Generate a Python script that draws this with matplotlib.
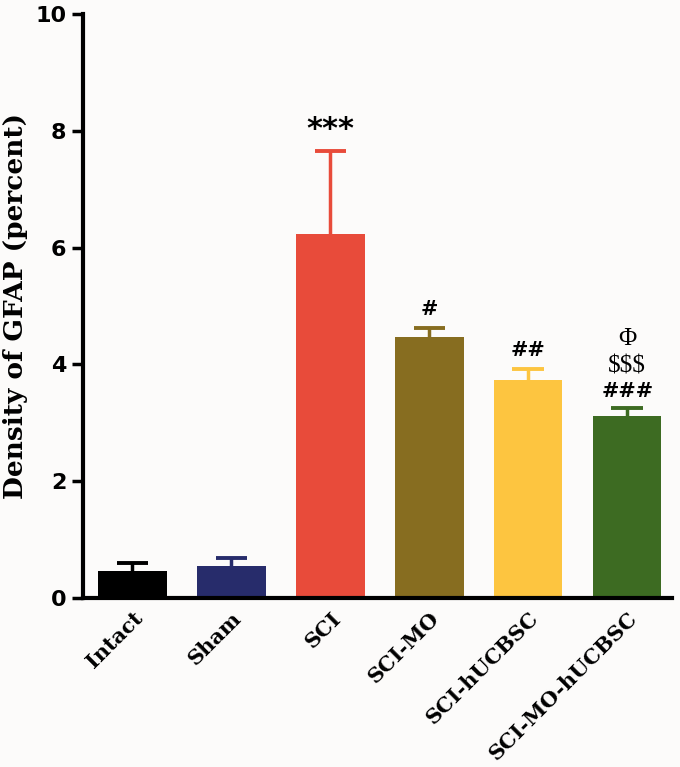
import matplotlib
matplotlib.use("Agg")
import matplotlib.pyplot as plt
import numpy as np

categories = ["Intact", "Sham", "SCI", "SCI-MO", "SCI-hUCBSC", "SCI-MO-hUCBSC"]
means = [0.46, 0.56, 6.24, 4.47, 3.73, 3.11]
errors = [0.14, 0.13, 1.42, 0.15, 0.19, 0.14]
colors = ["#000000", "#272C6B", "#E84B3A", "#876D20", "#FDC540", "#3D6B22"]

fig = plt.figure(figsize=(6.8, 7.67), dpi=100, facecolor="#FCFBFA")
ax = fig.add_axes([0.122, 0.220, 0.866, 0.762])
ax.set_facecolor("#FCFBFA")
x = np.arange(len(categories))
tops = np.array(means) + np.array(errors)
ax.bar(x, means, width=0.69, color=colors, zorder=2)
ax.vlines(x, means, tops, colors=colors, linewidth=2.5, zorder=1)
for i in range(len(categories)):
    ax.hlines(tops[i], x[i] - 0.16, x[i] + 0.16, colors=colors[i], linewidth=2.8, zorder=1)

serif = ["DejaVu Serif"]
ax.text(x[2], tops[2] + 0.12, "***", ha="center", va="bottom",
        fontsize=22, fontweight="bold", family="DejaVu Sans")
ax.text(x[3], tops[3] + 0.15, "#", ha="center", va="bottom",
        fontsize=15, fontweight="bold", family=serif)
ax.text(x[4], tops[4] + 0.15, "##", ha="center", va="bottom",
        fontsize=15, fontweight="bold", family=serif)
ax.text(x[5], tops[5] + 0.12, "###", ha="center", va="bottom",
        fontsize=15, fontweight="bold", family=serif)
ax.text(x[5], tops[5] + 0.52, "$$$", ha="center", va="bottom",
        fontsize=18, family="Liberation Serif")
ax.text(x[5], tops[5] + 1.0, "\u03A6", ha="center", va="bottom",
        fontsize=18, family="Liberation Serif")

ax.set_xlim(-0.5, 5.45)
ax.set_ylim(0, 10)
ax.set_yticks([0, 2, 4, 6, 8, 10])
ax.set_yticklabels(["0", "2", "4", "6", "8", "10"], fontsize=16, fontweight="bold",
                   family="DejaVu Sans")
ax.set_xticks(x)
ax.set_xticklabels(categories, rotation=45, ha="right", rotation_mode="anchor",
                   fontsize=15, fontweight="bold", family=serif)
ax.tick_params(axis="x", length=0, pad=7)
ax.tick_params(axis="y", length=8, width=2.5, direction="out", pad=4)
for s in ["top", "right"]:
    ax.spines[s].set_visible(False)
for s in ["left", "bottom"]:
    ax.spines[s].set_linewidth(3)
ax.set_ylabel("Density of GFAP (percent)", fontsize=19, fontweight="bold",
              family=serif, labelpad=5)

fig.savefig("out.png", dpi=100, facecolor=fig.get_facecolor())
